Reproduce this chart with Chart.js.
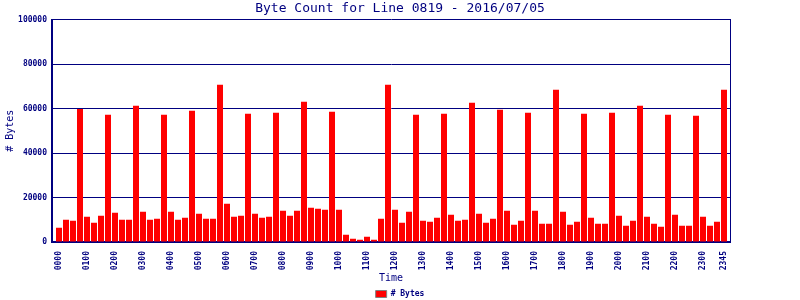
<!DOCTYPE html>
<html>
<head>
<meta charset="utf-8">
<script src="https://cdn.jsdelivr.net/npm/chart.js@4/dist/chart.umd.min.js"></script>
<style>
html,body{margin:0;padding:0;background:#fff;}
#wrap{width:800px;height:300px;position:relative;}
</style>
</head>
<body>
<div id="wrap"><canvas id="c" width="800" height="300"></canvas></div>
<script>
const timeLabels = [
'0000','0015','0030','0045','0100','0115','0130','0145','0200','0215','0230','0245',
'0300','0315','0330','0345','0400','0415','0430','0445','0500','0515','0530','0545',
'0600','0615','0630','0645','0700','0715','0730','0745','0800','0815','0830','0845',
'0900','0915','0930','0945','1000','1015','1030','1045','1100','1115','1130','1145',
'1200','1215','1230','1245','1300','1315','1330','1345','1400','1415','1430','1445',
'1500','1515','1530','1545','1600','1615','1630','1645','1700','1715','1730','1745',
'1800','1815','1830','1845','1900','1915','1930','1945','2000','2015','2030','2045',
'2100','2115','2130','2145','2200','2215','2230','2245','2300','2315','2330','2345'
];
const shownLabels = ['0000','0100','0200','0300','0400','0500','0600','0700','0800','0900','1000','1100',
'1200','1300','1400','1500','1600','1700','1800','1900','2000','2100','2200','2300','2345'];
const byteCounts = [
6400,10000,9600,59800,11400,8700,11800,57200,13200,10000,10000,61300,
13600,10000,10500,57200,13600,10000,10900,59000,12700,10500,10500,70700,
17200,11400,11800,57700,12700,10900,11400,58100,14100,11800,14100,63100,
15400,15000,14500,58600,14500,3300,1500,1050,2400,1050,10500,70700,
14500,8700,13600,57200,9600,9100,10900,57700,12300,9600,10000,62600,
12700,8700,10500,59500,14100,7800,9600,58100,14100,8200,8200,68500,
13600,7800,9100,57700,10900,8200,8200,58100,11800,7300,9600,61300,
11400,8200,6900,57200,12300,7300,7300,56800,11400,7300,9100,68500
];
const yTicks = [0,20000,40000,60000,80000,100000];
const NAVY = '#000080';
const MONO = '"DejaVu Sans Mono", "Liberation Mono", monospace';

const points = byteCounts.map((v,i)=>({x:i,y:v}));
const shownIdx = shownLabels.map(l=>timeLabels.indexOf(l));

new Chart(document.getElementById('c'), {
  type:'bar',
  data:{
    datasets:[{
      label:'# Bytes',
      data: points,
      backgroundColor:'#ff0000',
      borderWidth:0,
      inflateAmount:0,
      barThickness:6
    }]
  },
  options:{
    responsive:false,
    animation:false,
    devicePixelRatio:1,
    layout:{padding:{left:0,right:0,top:0,bottom:0}},
    plugins:{
      title:{display:true,text:'Byte Count for Line 0819 - 2016/07/05',color:NAVY,
        font:{family:MONO,size:13,weight:'normal'},padding:{top:1,bottom:3}},
      legend:{display:true,position:'bottom',maxHeight:12,
        labels:{color:NAVY,font:{family:MONO,size:8,weight:'bold'},boxWidth:11,boxHeight:7,padding:2,
          generateLabels(chart){
            return [{text:'# Bytes',fillStyle:'#ff0000',strokeStyle:'#808080',lineWidth:1,fontColor:NAVY,datasetIndex:0,hidden:false}];
          }}},
      tooltip:{enabled:false}
    },
    scales:{
      x:{
        type:'linear',
        min:-1, max:95.857,
        offset:false,
        afterBuildTicks(s){s.ticks=shownIdx.map(v=>({value:v}));},
        grid:{display:false},
        border:{display:true,color:NAVY,width:2},
        ticks:{color:NAVY,font:{family:MONO,size:8,weight:'bold'},autoSkip:false,
          maxRotation:90,minRotation:90,padding:1,
          callback:function(v){return timeLabels[v];}},
        title:{display:true,text:'Time',color:NAVY,font:{family:MONO,size:10,weight:'normal'},padding:{top:2,bottom:4}},
        afterFit(s){s.height=46;}
      },
      y:{
        min:0,max:100000,
        afterBuildTicks(s){s.ticks=yTicks.map(v=>({value:v}));},
        grid:{color:NAVY,lineWidth:1,drawTicks:false},
        border:{display:true,color:NAVY,width:2},
        ticks:{color:NAVY,font:{family:MONO,size:8,weight:'bold'},padding:5,
          callback:v=>String(v)},
        title:{display:true,text:'# Bytes',color:NAVY,font:{family:MONO,size:10,weight:'normal'},padding:{top:4,bottom:0}},
        afterFit(s){s.width=52;}
      },
      yr:{
        position:'right',
        min:0,max:100000,
        grid:{display:false},
        border:{display:true,color:NAVY,width:1},
        ticks:{display:false},
        afterFit(s){s.width=70;}
      }
    }
  }
});
</script>
</body>
</html>
